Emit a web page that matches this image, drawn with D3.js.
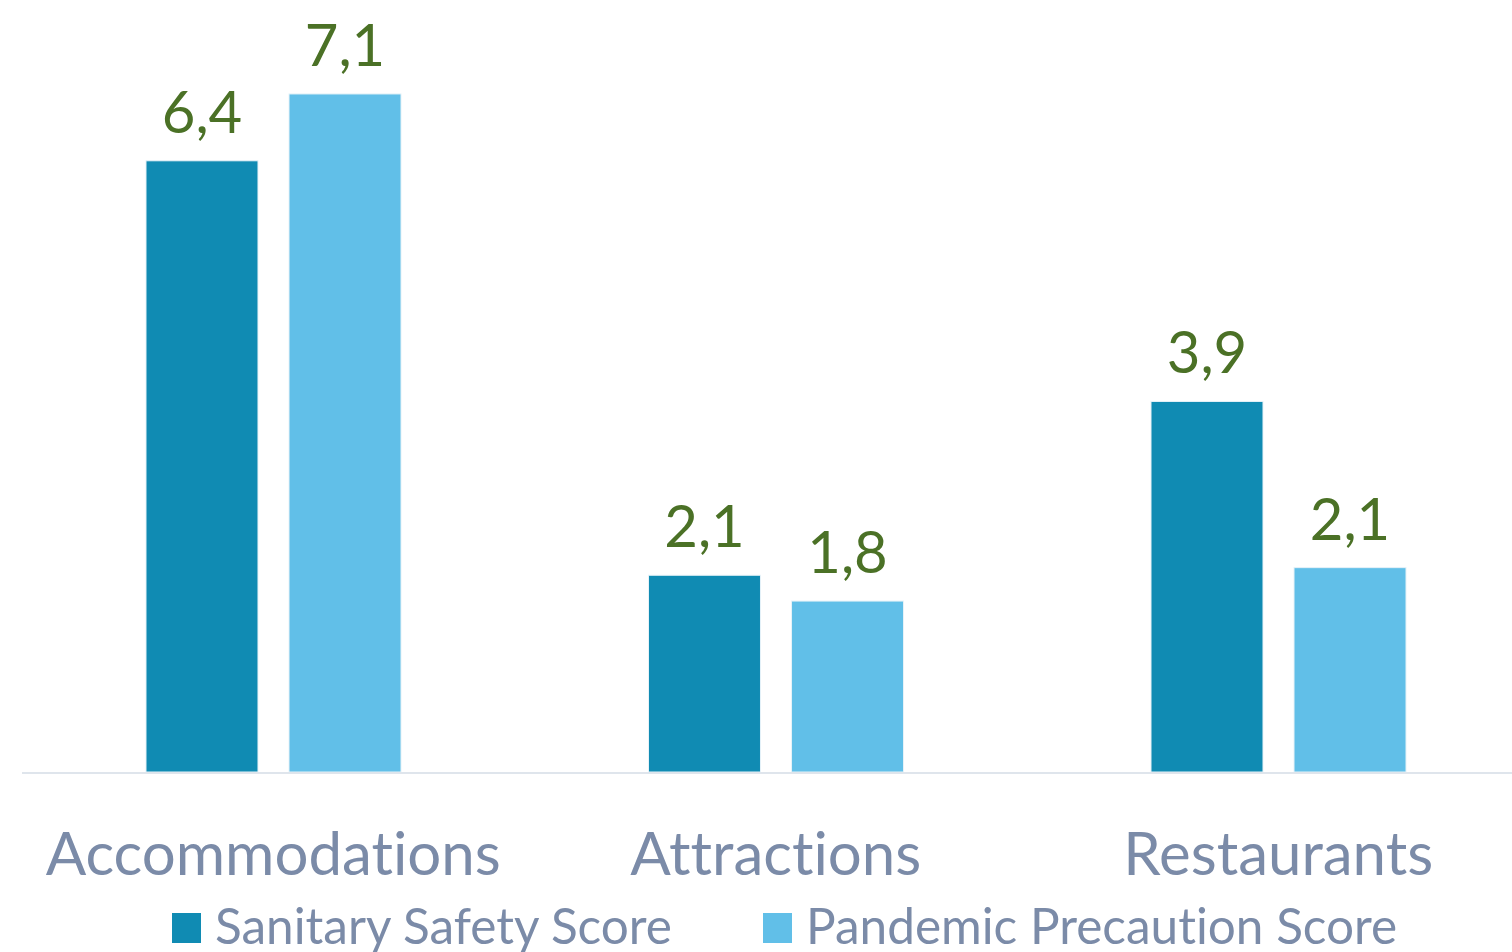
<!DOCTYPE html>
<html>
<head>
<meta charset="utf-8">
<script src="https://cdn.jsdelivr.net/npm/d3@7"></script>
<style>
  html, body { margin: 0; padding: 0; background: #fff; }
  svg { display: block; font-family: Lato, "Open Sans", sans-serif; font-variant-ligatures: none; }
</style>
</head>
<body>
<div id="chart"></div>
<script>
var categories = ["Accommodations", "Attractions", "Restaurants"];
var series = ["Sanitary Safety Score", "Pandemic Precaution Score"];
var sanitary = [6.4, 2.06, 3.88];
var pandemic = [7.1, 1.79, 2.14];
var colors = ["#108bb3", "#61bfe8"];

var width = 1512,
    height = 952,
    baseline = 772;

var svg = d3.select("#chart")
    .append("svg")
    .attr("width", width)
    .attr("height", height);

var data = categories.map(function(c, i) {
    return { cat: c, values: [sanitary[i], pandemic[i]] };
});

var x0 = d3.scaleBand()
    .domain(categories)
    .range([22, 1529.5]);

var x1 = d3.scaleBand()
    .domain(series)
    .range([124, 379])
    .paddingInner(0.217);

var y = d3.scaleLinear()
    .domain([0, 8])
    .range([baseline, baseline - 8 * 95.5]);

var fmt = function(v) { return d3.format(".1f")(v).replace(".", ","); };

var groups = svg.selectAll("g.group")
    .data(data).enter()
    .append("g")
    .attr("class", "group")
    .attr("transform", function(d) { return "translate(" + x0(d.cat) + ",0)"; });

var bars = groups.selectAll("g.bar")
    .data(function(d) {
        return d.values.map(function(v, j) { return { key: series[j], value: v, idx: j }; });
    }).enter()
    .append("g");

bars.append("rect")
    .attr("x", function(d) { return x1(d.key); })
    .attr("y", function(d) { return y(d.value); })
    .attr("width", x1.bandwidth())
    .attr("height", function(d) { return baseline - y(d.value); })
    .attr("fill", function(d) { return colors[d.idx]; })
    .attr("stroke", "#e6f2f8")
    .attr("stroke-width", 1);

bars.append("text")
    .attr("x", function(d) { return x1(d.key) + x1.bandwidth() / 2; })
    .attr("y", function(d) { return y(d.value) - 28; })
    .attr("text-anchor", "middle")
    .attr("font-size", 58)
    .attr("fill", "#4b7126")
    .text(function(d) { return fmt(d.value); });

// axis line
svg.append("line")
    .attr("x1", 22)
    .attr("x2", width)
    .attr("y1", baseline + 1)
    .attr("y2", baseline + 1)
    .attr("stroke", "#dfe5ec")
    .attr("stroke-width", 2);

// category labels
svg.selectAll("text.cat")
    .data(categories).enter()
    .append("text")
    .attr("class", "cat")
    .attr("x", function(d) { return x0(d) + x0.bandwidth() / 2; })
    .attr("y", 875)
    .attr("text-anchor", "middle")
    .attr("font-size", 60)
    .attr("fill", "#7b8ba8")
    .text(function(d) { return d; });

// legend
var legendX = [172, 763];
var legend = svg.selectAll("g.legend")
    .data(series).enter()
    .append("g")
    .attr("class", "legend")
    .attr("transform", function(d, i) { return "translate(" + legendX[i] + ",913)"; });

legend.append("rect")
    .attr("width", 29)
    .attr("height", 30)
    .attr("fill", function(d, i) { return colors[i]; });

legend.append("text")
    .attr("x", 43)
    .attr("y", 31)
    .attr("font-size", 49.5)
    .attr("fill", "#7b8ba8")
    .text(function(d) { return d; });
</script>
</body>
</html>
